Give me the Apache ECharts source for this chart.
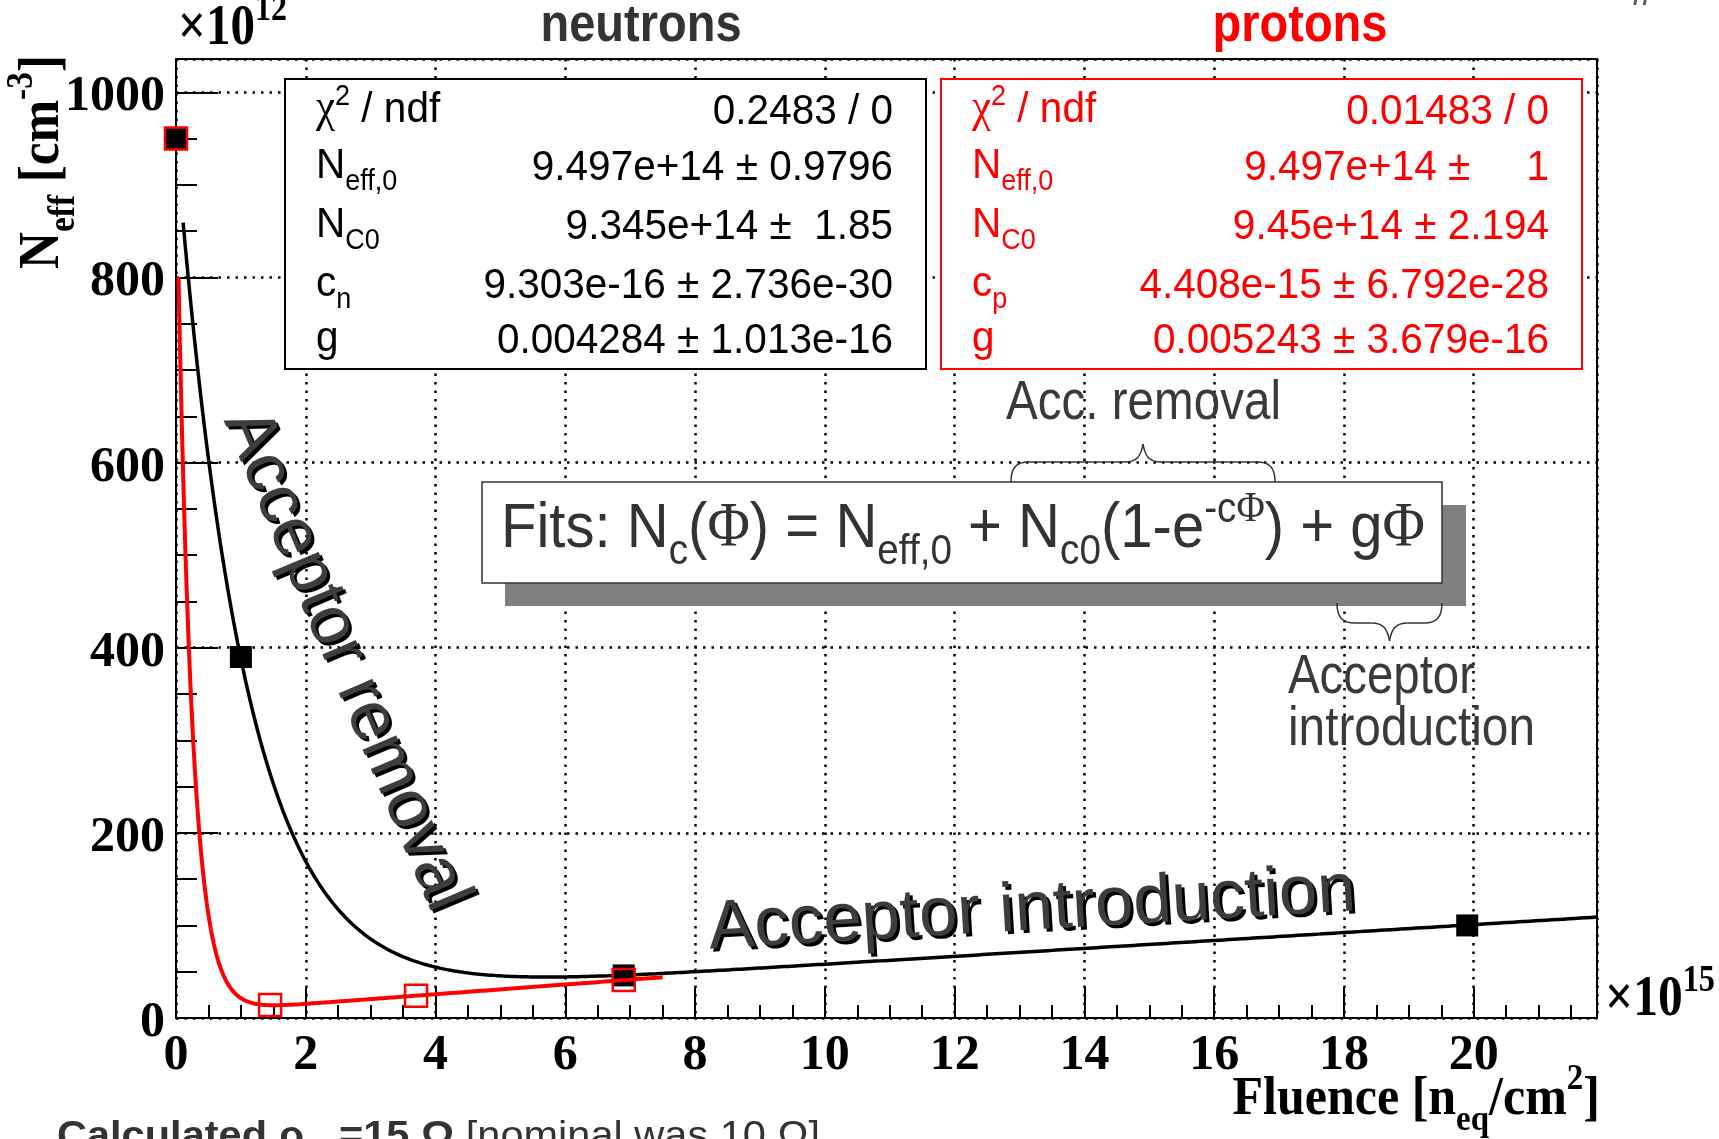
<!DOCTYPE html>
<html>
<head>
<meta charset="utf-8">
<script src="https://cdn.jsdelivr.net/npm/echarts@6/dist/echarts.min.js"></script>
<style>
  html, body { margin: 0; padding: 0; background: #fff; }
  #chart { width: 1719px; height: 1139px; }
</style>
</head>
<body>
<div id="chart"></div>
<script>
// Fluence in units of 1e15 n_eq/cm^2, N_eff in units of 1e12 cm^-3
const neutronFluence = [0, 1.0, 6.9, 19.9];
const neutronNeff = [950, 390, 46, 100];
const protonFluence = [0, 1.45, 3.7, 6.9];
const protonNeff = [950, 14, 24, 41];

// Fit parameters [N_eff,0, N_C0, c, g] in the scaled units above
const neutronFitParams = [949.7, 934.5, 0.9303, 4.284];
const protonFitParams = [949.7, 945.0, 4.408, 5.243];
const neutronFitRange = [0.11, 21.9];
const protonFitRange = [0.039, 7.5];

const xTickLabels = ['0', '2', '4', '6', '8', '10', '12', '14', '16', '18', '20'];
const yTickLabels = ['0', '200', '400', '600', '800', '1000'];

// Fit statistics boxes
const neutronStatValues = ['0.2483 / 0', '9.497e+14 \u00b1 0.9796', '9.345e+14 \u00b1  1.85', '9.303e-16 \u00b1 2.736e-30', '0.004284 \u00b1 1.013e-16'];
const protonStatValues = ['0.01483 / 0', '9.497e+14 \u00b1     1', '9.45e+14 \u00b1 2.194', '4.408e-15 \u00b1 6.792e-28', '0.005243 \u00b1 3.679e-16'];

const SANS = "'Liberation Sans', Arial, Helvetica, sans-serif";
const SERIF = "'Liberation Serif', 'Times New Roman', serif";

// N(phi) = N_eff,0 - N_C0 (1 - exp(-c phi)) + g phi
function fitCurve(p, range, n) {
  const pts = [];
  for (let i = 0; i <= n; i++) {
    const t = i / n;
    const x = range[0] + (range[1] - range[0]) * t * t;
    pts.push([x, p[0] - p[1] * (1 - Math.exp(-p[2] * x)) + p[3] * x]);
  }
  return pts;
}
const zip = (xs, ys) => xs.map((x, i) => [x, ys[i]]);

// ---- text helpers: runs of differently sized pieces on a common baseline ----
const measureCtx = document.createElement('canvas').getContext('2d');
function fontStr(s) {
  return (s.italic ? 'italic ' : '') + (s.bold ? 'bold ' : '') + s.size + 'px ' + s.family;
}
function widthOf(s) { measureCtx.font = fontStr(s); return measureCtx.measureText(s.t).width; }

function runGroup(segs, opt, color, dx, dy, z) {
  const base = { size: opt.size || 40, family: opt.family || SANS, bold: !!opt.bold, italic: !!opt.italic };
  const full = segs.map(s => Object.assign({}, base, s));
  const widths = full.map(widthOf);
  const total = widths.reduce((a, b) => a + b, 0);
  let scaleX = opt.scaleX || 1;
  if (opt.width) scaleX = opt.width / total;
  let cx = opt.align === 'right' ? -total : opt.align === 'center' ? -total / 2 : 0;
  const baseOff = opt.baseOffset || 0;
  const children = full.map((s, i) => {
    const el = {
      type: 'text', z: z, silent: true,
      x: cx, y: baseOff + (s.dy || 0) - 0.34 * s.size,
      style: {
        text: s.t, font: fontStr(s), fill: color || s.color || opt.color || '#000',
        align: 'left', verticalAlign: 'middle', textAlign: 'left', textVerticalAlign: 'middle'
      }
    };
    cx += widths[i];
    return el;
  });
  return {
    type: 'group', x: opt.x + dx, y: opt.y + dy, rotation: opt.rotation || 0,
    scaleX: scaleX, scaleY: opt.scaleY || 1, z: z, children: children
  };
}

function textRun(segs, opt) {
  const z = opt.z || 60;
  const out = [];
  if (opt.shadow) out.push(runGroup(segs, opt, opt.shadow, opt.shadowX, opt.shadowY, z - 1));
  out.push(runGroup(segs, opt, null, 0, 0, z));
  return out;
}

function statBox(left, top, w, h, color, names, values) {
  const els = [{
    type: 'rect', z: 50, shape: { x: left, y: top, width: w, height: h },
    style: { fill: '#fff', stroke: color, lineWidth: 2 }
  }];
  const baselines = [127, 183, 242, 301, 356];
  names.forEach((segs, i) => {
    els.push(...textRun(segs, { x: left + 31, y: baselines[i] - 2, size: 40.5, color: color, scaleY: 1.06 }));
    els.push(...textRun([{ t: values[i] }], { x: left + w - 33, y: baselines[i], size: 40.5, color: color, align: 'right', scaleY: 1.06 }));
  });
  return els;
}

function statNames(sub) {
  return [
    [{ t: '\u03c7', family: SERIF, size: 43 }, { t: '2', size: 27, dy: -17 }, { t: ' / ndf' }],
    [{ t: 'N' }, { t: 'eff,0', size: 27, dy: 10 }],
    [{ t: 'N' }, { t: 'C0', size: 27, dy: 10 }],
    [{ t: 'c' }, { t: sub, size: 27, dy: 10 }],
    [{ t: 'g' }]
  ];
}

// Curly brace built from bezier pieces; dir = -1 points the tip up, +1 down
function brace(x1, x2, yEnd, dir) {
  const yMid = yEnd + dir * 20, yTip = yEnd + dir * 38, xc = (x1 + x2) / 2;
  const st = { fill: 'none', stroke: '#333', lineWidth: 1.5 };
  const bz = (a, b, c, d) => ({ type: 'bezierCurve', z: 55, silent: true, style: st,
    shape: { x1: a[0], y1: a[1], cpx1: b[0], cpy1: b[1], cpx2: c[0], cpy2: c[1], x2: d[0], y2: d[1] } });
  const ln = (a, b) => ({ type: 'line', z: 55, silent: true, style: st, shape: { x1: a[0], y1: a[1], x2: b[0], y2: b[1] } });
  return [
    bz([x1, yEnd], [x1, yEnd + dir * 14], [x1 + 5, yMid], [x1 + 18, yMid]),
    ln([x1 + 18, yMid], [xc - 18, yMid]),
    bz([xc - 18, yMid], [xc - 6, yMid], [xc - 2, yMid + dir * 6], [xc, yTip]),
    bz([xc, yTip], [xc + 2, yMid + dir * 6], [xc + 6, yMid], [xc + 18, yMid]),
    ln([xc + 18, yMid], [x2 - 18, yMid]),
    bz([x2 - 18, yMid], [x2 - 5, yMid], [x2, yEnd + dir * 14], [x2, yEnd])
  ];
}

const chart = echarts.init(document.getElementById('chart'), null, { width: 1719, height: 1139, renderer: 'canvas' });

const X_MAX = 21.9, Y_MAX = 1036;
const axisFont = { fontFamily: SERIF, fontWeight: 'bold', fontSize: 50, color: '#000' };
const gridDots = { color: '#000', width: 2.5, type: [2.5, 6] };

const graphics = [].concat(
  // panel titles
  textRun([{ t: 'neutrons' }], { x: 641, y: 44, size: 47, bold: true, color: '#333', align: 'center', scaleY: 1.1 }),
  textRun([{ t: 'protons' }], { x: 1300, y: 44, size: 47, bold: true, color: '#ff0000', align: 'center', scaleY: 1.1 }),
  // multipliers and axis titles
  textRun([{ t: '\u00d710' }, { t: '12', size: 34, dy: -24 }], { x: 178, y: 49, size: 52, family: SERIF, bold: true, width: 109, scaleY: 1.1 }),
  textRun([{ t: '\u00d710' }, { t: '15', size: 34, dy: -24 }], { x: 1605, y: 1020, size: 52, family: SERIF, bold: true, width: 110, scaleY: 1.1 }),
  textRun([{ t: 'Fluence [n' }, { t: 'eq', size: 33, dy: 14 }, { t: '/cm' }, { t: '2', size: 33, dy: -24 }, { t: ']' }],
    { x: 1600, y: 1118, size: 50, family: SERIF, bold: true, align: 'right', scaleY: 1.1 }),
  textRun([{ t: 'N' }, { t: 'eff', size: 34, dy: 13 }, { t: ' [cm' }, { t: '-3', size: 34, dy: -25 }, { t: ']' }],
    { x: 63, y: 269, size: 52, family: SERIF, bold: true, rotation: Math.PI / 2, width: 214, scaleY: 1.1 }),
  // stat boxes
  statBox(285, 79, 641, 290, '#000', statNames('n'), neutronStatValues),
  statBox(941, 79, 641, 290, '#ff0000', statNames('p'), protonStatValues),
  // fit formula box with drop shadow
  [{ type: 'rect', z: 48, shape: { x: 505, y: 505, width: 961, height: 101 }, style: { fill: '#808080' } },
   { type: 'rect', z: 49, shape: { x: 482, y: 482, width: 960, height: 101 }, style: { fill: '#fff', stroke: '#333', lineWidth: 1.5 } }],
  textRun([
    { t: 'Fits: N' }, { t: 'c', size: 40, dy: 15 }, { t: '(' }, { t: '\u03a6', family: SERIF }, { t: ') = N' },
    { t: 'eff,0', size: 40, dy: 15 }, { t: ' + N' }, { t: 'c0', size: 40, dy: 15 }, { t: '(1-e' },
    { t: '-c', size: 40, dy: -25 }, { t: '\u03a6', size: 40, family: SERIF, dy: -25 }, { t: ') + g' }, { t: '\u03a6', family: SERIF }
  ], { x: 501, y: 551, size: 60, color: '#333', width: 924, scaleY: 1.06 }),
  // braces and their labels
  brace(1011, 1275, 482, -1),
  brace(1337, 1442, 603, 1),
  textRun([{ t: 'Acc. removal' }], { x: 1006, y: 423, size: 52, color: '#3a3a3a', width: 275, scaleY: 1.05 }),
  textRun([{ t: 'Acceptor' }], { x: 1288, y: 697, size: 52, color: '#3a3a3a', width: 187, scaleY: 1.05 }),
  textRun([{ t: 'introduction' }], { x: 1288, y: 749, size: 52, color: '#3a3a3a', width: 247, scaleY: 1.05 }),
  // large annotations along the curves
  textRun([{ t: 'Acceptor removal' }], { x: 346, y: 660, size: 69, color: '#3d3d3d', align: 'center', baseOffset: 24,
    rotation: -67.1 * Math.PI / 180, shadow: '#000', shadowX: 3, shadowY: 3 }),
  textRun([{ t: 'Acceptor introduction' }], { x: 1032, y: 910, size: 69, color: '#3d3d3d', align: 'center', baseOffset: 24,
    rotation: 3.4 * Math.PI / 180, shadow: '#000', shadowX: 3, shadowY: 3 }),
  // slide text around the figure
  textRun([{ t: 'Calculated \u03c1', bold: true }, { t: 'eff', size: 26, bold: true, dy: 10 }, { t: '=15 \u03a9', bold: true }, { t: ' [nominal was 10 \u03a9]' }],
    { x: 57, y: 1150, size: 38, color: '#333', width: 763 }),
  textRun([{ t: 'eff', italic: true }], { x: 1618, y: 1, size: 34, family: SERIF, color: '#555' })
);

chart.setOption({
  animation: false,
  backgroundColor: '#fff',
  grid: {
    left: 176, top: 59, right: 122, bottom: 121,
    containLabel: false, outerBoundsMode: 'none',
    show: true, borderColor: '#000', borderWidth: 2, backgroundColor: 'transparent'
  },
  xAxis: [
    {
      type: 'value', min: 0, max: X_MAX, interval: 2, position: 'bottom', offset: 0,
      axisLine: { show: true, onZero: false, lineStyle: { color: '#000', width: 2 } },
      axisTick: { show: true, inside: true, length: 31, lineStyle: { color: '#000', width: 2 } },
      axisLabel: Object.assign({
        margin: 13, showMaxLabel: false, showMinLabel: true,
        formatter: v => { const i = Math.round(v / 2); return Math.abs(v - 2 * i) < 1e-6 && xTickLabels[i] !== undefined ? xTickLabels[i] : ''; }
      }, axisFont),
      splitLine: { show: true, lineStyle: gridDots },
      minorTick: { show: false }
    },
    {
      type: 'value', min: 0, max: X_MAX, interval: 0.5, position: 'bottom', offset: 0,
      axisLine: { show: false },
      axisTick: { show: true, inside: true, length: 13, lineStyle: { color: '#000', width: 2 } },
      axisLabel: { show: false },
      splitLine: { show: false }
    }
  ],
  yAxis: [
    {
      type: 'value', min: 0, max: Y_MAX, interval: 200, position: 'left', offset: 0,
      axisLine: { show: true, onZero: false, lineStyle: { color: '#000', width: 2 } },
      axisTick: { show: true, inside: true, length: 42, lineStyle: { color: '#000', width: 2 } },
      axisLabel: Object.assign({
        margin: 11, showMaxLabel: false, showMinLabel: true,
        formatter: v => {
          const i = Math.round(v / 200);
          return Math.abs(v - 200 * i) < 1e-6 && yTickLabels[i] !== undefined ? '{t|' + yTickLabels[i] + '}' : '';
        },
        rich: { t: Object.assign({ padding: [10, 0, 0, 0] }, axisFont) }
      }, axisFont),
      splitLine: { show: true, lineStyle: gridDots }
    },
    {
      type: 'value', min: 0, max: Y_MAX, interval: 50, position: 'left', offset: 0,
      axisLine: { show: false },
      axisTick: { show: true, inside: true, length: 21, lineStyle: { color: '#000', width: 2 } },
      axisLabel: { show: false },
      splitLine: { show: false }
    }
  ],
  series: [
    {
      name: 'neutrons', type: 'scatter', xAxisIndex: 0, yAxisIndex: 0, z: 3,
      symbol: 'rect', symbolSize: 22, itemStyle: { color: '#000', opacity: 1 },
      data: zip(neutronFluence, neutronNeff)
    },
    {
      name: 'neutron fit', type: 'line', xAxisIndex: 0, yAxisIndex: 0, z: 4,
      showSymbol: false, symbol: 'none', clip: true,
      lineStyle: { color: '#000', width: 3.5 },
      data: fitCurve(neutronFitParams, neutronFitRange, 500)
    },
    {
      name: 'protons', type: 'scatter', xAxisIndex: 0, yAxisIndex: 0, z: 5,
      symbol: 'rect', symbolSize: 22,
      itemStyle: { color: 'rgba(0,0,0,0)', borderColor: '#ff0000', borderWidth: 2.5, opacity: 1 },
      data: zip(protonFluence, protonNeff)
    },
    {
      name: 'proton fit', type: 'line', xAxisIndex: 0, yAxisIndex: 0, z: 6,
      showSymbol: false, symbol: 'none', clip: true,
      lineStyle: { color: '#ff0000', width: 4 },
      data: fitCurve(protonFitParams, protonFitRange, 500)
    }
  ],
  graphic: { elements: graphics }
});
</script>
</body>
</html>
